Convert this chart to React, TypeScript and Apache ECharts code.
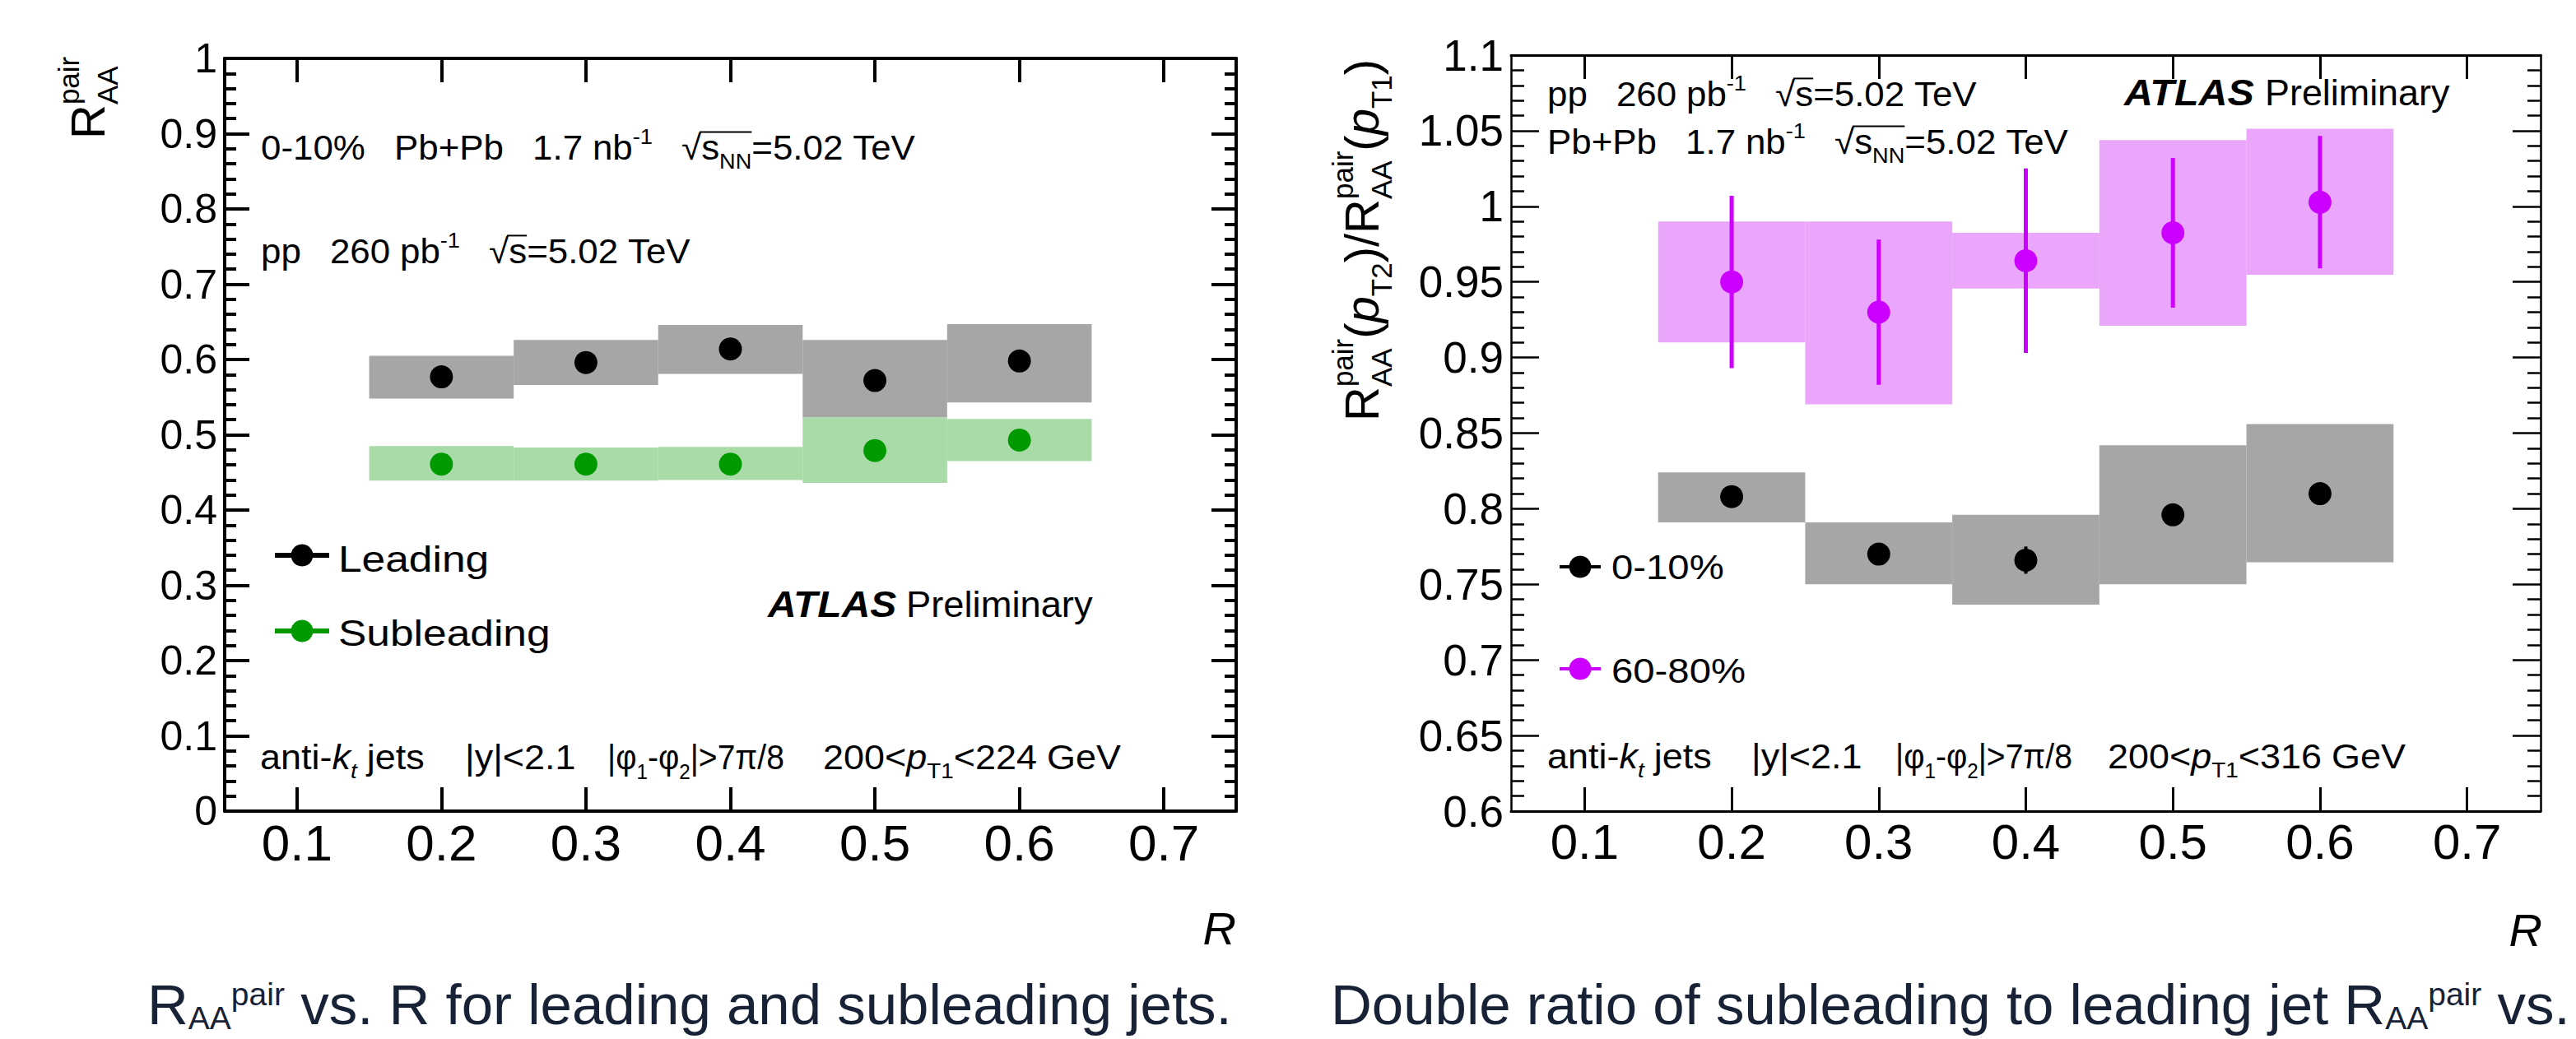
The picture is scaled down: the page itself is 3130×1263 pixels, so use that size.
import React, { useEffect, useRef } from 'react';
import * as echarts from 'echarts';

const W = 3130;
const H = 1263;
const FONT = '"Liberation Sans", Arial, Helvetica, sans-serif';

// ---------------- data ----------------
const R_BINS = [0.2, 0.3, 0.4, 0.5, 0.6];
const BIN_HALF = 0.05;
const X_TICKS = [0.1, 0.2, 0.3, 0.4, 0.5, 0.6, 0.7];

// left panel: R_AA^pair
const LEADING = [0.577, 0.596, 0.614, 0.572, 0.598];
const LEADING_SYS_LO = [0.548, 0.566, 0.581, 0.523, 0.543];
const LEADING_SYS_HI = [0.605, 0.626, 0.646, 0.626, 0.647];
const SUBLEADING = [0.461, 0.461, 0.461, 0.479, 0.493];
const SUBLEADING_SYS_LO = [0.439, 0.439, 0.440, 0.436, 0.465];
const SUBLEADING_SYS_HI = [0.485, 0.483, 0.484, 0.523, 0.521];

// right panel: double ratio
const C0_10 = [0.808, 0.770, 0.766, 0.796, 0.810];
const C0_10_ERR_LO = [0.805, 0.767, 0.757, 0.793, 0.807];
const C0_10_ERR_HI = [0.811, 0.773, 0.775, 0.799, 0.813];
const C0_10_SYS_LO = [0.791, 0.750, 0.7365, 0.750, 0.7646];
const C0_10_SYS_HI = [0.824, 0.791, 0.796, 0.842, 0.856];
const C60_80 = [0.950, 0.930, 0.964, 0.9825, 1.0027];
const C60_80_ERR_LO = [0.893, 0.882, 0.903, 0.933, 0.959];
const C60_80_ERR_HI = [1.007, 0.978, 1.025, 1.032, 1.0465];
const C60_80_SYS_LO = [0.910, 0.869, 0.9456, 0.921, 0.9548];
const C60_80_SYS_HI = [0.990, 0.990, 0.9825, 1.0438, 1.0513];

// ---------------- colours ----------------
const BLACK = '#000000';
const GREEN = '#009900';
const GREEN_BAND = '#a8dba8';
const GREY_BAND = '#a6a6a6';
const MAGENTA = '#cc00ff';
const MAGENTA_BAND = '#e9a6fa';
const CAPTION = '#172236';

// ---------------- text helper ----------------
type Seg = {
  t?: string;
  it?: boolean;
  b?: boolean;
  sup?: string;
  sub?: string;
  subIt?: boolean;
  gap?: number;
  over?: boolean;
};
interface TexOpts {
  x: number;
  y: number;
  fs: number;
  sfs?: number;
  supRaise?: number;
  subDrop?: number;
  align?: 'left' | 'right' | 'center';
  rotation?: number;
  scaleX?: number;
  fill?: string;
  family?: string;
  lineW?: number;
}
let measureCtx: CanvasRenderingContext2D | null = null;
function textWidth(t: string, size: number, it = false, b = false, family = FONT) {
  if (!measureCtx) measureCtx = document.createElement('canvas').getContext('2d');
  measureCtx!.font = `${it ? 'italic ' : ''}${b ? 'bold ' : ''}${size}px ${family}`;
  return measureCtx!.measureText(t).width;
}
const CENTRAL = 0.3465;

function tex(segs: Seg[], o: TexOpts) {
  const fs = o.fs;
  const sfs = o.sfs ?? Math.round(fs * 0.62);
  const supRaise = o.supRaise ?? fs * 0.45;
  const subDrop = o.subDrop ?? fs * 0.27;
  const fill = o.fill ?? BLACK;
  const family = o.family ?? FONT;
  const pieces: any[] = [];
  const overs: number[][] = [];
  let cx = 0;
  for (const s of segs) {
    if (s.gap) {
      cx += s.gap * fs;
      continue;
    }
    const start = cx;
    if (s.t) {
      pieces.push({ text: s.t, x: cx, base: 0, size: fs, it: !!s.it, b: !!s.b });
      cx += textWidth(s.t, fs, !!s.it, !!s.b, family);
    }
    let extra = 0;
    if (s.sup) {
      pieces.push({ text: s.sup, x: cx, base: -supRaise, size: sfs, it: false, b: false });
      extra = Math.max(extra, textWidth(s.sup, sfs, false, false, family));
    }
    if (s.sub) {
      pieces.push({ text: s.sub, x: cx, base: subDrop, size: sfs, it: !!s.subIt, b: false });
      extra = Math.max(extra, textWidth(s.sub, sfs, !!s.subIt, false, family));
    }
    cx += extra;
    if (s.over) overs.push([start, cx]);
  }
  const off = o.align === 'right' ? -cx : o.align === 'center' ? -cx / 2 : 0;
  const children: any[] = pieces.map((p) => ({
    type: 'text',
    x: p.x + off,
    y: p.base - CENTRAL * p.size,
    silent: true,
    style: {
      text: p.text,
      fontSize: p.size,
      fontFamily: family,
      fontStyle: p.it ? 'italic' : 'normal',
      fontWeight: p.b ? 'bold' : 'normal',
      fill,
      align: 'left',
      verticalAlign: 'middle',
      textAlign: 'left',
      textVerticalAlign: 'middle',
    },
  }));
  for (const [a, b] of overs) {
    children.push({
      type: 'line',
      silent: true,
      shape: { x1: a + off - 2, y1: -fs * 0.8, x2: b + off, y2: -fs * 0.8 },
      style: { stroke: fill, lineWidth: o.lineW ?? 2 },
    });
  }
  return {
    type: 'group',
    x: o.x,
    y: o.y,
    rotation: o.rotation ?? 0,
    scaleX: o.scaleX ?? 1,
    silent: true,
    children,
  };
}

function legendItem(
  x: number, y: number, half: number, lw: number, color: string,
  label: string, tx: number, base: number, fs: number, sx: number
) {
  return {
    type: 'group',
    silent: true,
    children: [
      { type: 'line', shape: { x1: x - half, y1: y, x2: x + half, y2: y }, style: { stroke: color, lineWidth: lw } },
      { type: 'circle', shape: { cx: x, cy: y, r: 13.5 }, style: { fill: color } },
      tex([{ t: label }], { x: tx, y: base, fs, scaleX: sx }),
    ],
  };
}

// ---------------- series helpers ----------------
function boxSeries(xi: number, yi: number, lo: number[], hi: number[], color: string) {
  return {
    type: 'custom',
    xAxisIndex: xi,
    yAxisIndex: yi,
    z: 1,
    silent: true,
    data: R_BINS.map((r, i) => [r, lo[i], hi[i]]),
    encode: { x: 0, y: [1, 2] },
    renderItem: (_p: any, api: any) => {
      const x = api.value(0);
      const p1 = api.coord([x - BIN_HALF, api.value(2)]);
      const p2 = api.coord([x + BIN_HALF, api.value(1)]);
      return {
        type: 'rect',
        shape: { x: p1[0], y: p1[1], width: p2[0] - p1[0], height: p2[1] - p1[1] },
        style: { fill: color },
      };
    },
  };
}
function errSeries(xi: number, yi: number, lo: number[], hi: number[], color: string, lw: number) {
  return {
    type: 'custom',
    xAxisIndex: xi,
    yAxisIndex: yi,
    z: 2,
    silent: true,
    data: R_BINS.map((r, i) => [r, lo[i], hi[i]]),
    encode: { x: 0, y: [1, 2] },
    renderItem: (_p: any, api: any) => {
      const x = api.value(0);
      const a = api.coord([x, api.value(1)]);
      const b = api.coord([x, api.value(2)]);
      return { type: 'line', shape: { x1: a[0], y1: a[1], x2: b[0], y2: b[1] }, style: { stroke: color, lineWidth: lw } };
    },
  };
}
function dotSeries(xi: number, yi: number, vals: number[], color: string) {
  return {
    type: 'scatter',
    xAxisIndex: xi,
    yAxisIndex: yi,
    z: 3,
    silent: true,
    symbol: 'circle',
    symbolSize: 28,
    itemStyle: { color, opacity: 1 },
    data: R_BINS.map((r, i) => [r, vals[i]]),
  };
}

// ---------------- axis helpers ----------------
function xAxes(gridIndex: number, lw: number, labelSize: number) {
  const tick = { show: true, inside: true, length: 29, customValues: X_TICKS, lineStyle: { color: BLACK, width: lw } };
  const base = {
    type: 'value',
    gridIndex,
    min: 0.05,
    max: 0.75,
    splitLine: { show: false },
    axisLine: { show: true, onZero: false, lineStyle: { color: BLACK, width: lw } },
    axisTick: tick,
  };
  return [
    {
      ...base,
      position: 'bottom',
      axisLabel: {
        show: true,
        customValues: X_TICKS,
        formatter: (v: number) => v.toFixed(1),
        fontSize: labelSize,
        fontFamily: FONT,
        color: BLACK,
        margin: 7,
      },
    },
    { ...base, position: 'top', axisLabel: { show: false } },
  ];
}
function yAxes(
  gridIndex: number, min: number, max: number, interval: number, lw: number,
  labelSize: number, majLen: number, minLen: number, digits: number
) {
  const base = {
    type: 'value',
    gridIndex,
    min,
    max,
    interval,
    splitLine: { show: false },
    axisLine: { show: true, onZero: false, lineStyle: { color: BLACK, width: lw } },
    axisTick: { show: true, inside: true, length: majLen, lineStyle: { color: BLACK, width: lw } },
    minorTick: { show: true, splitNumber: 5, length: minLen, lineStyle: { color: BLACK, width: lw } },
    minorSplitLine: { show: false },
  };
  const f = Math.pow(10, digits);
  return [
    {
      ...base,
      position: 'left',
      axisLabel: {
        show: true,
        formatter: (v: number) => String(Math.round(v * f) / f),
        fontSize: labelSize,
        fontFamily: FONT,
        color: BLACK,
        margin: 9,
        padding: [7, 0, 0, 0],
        showMinLabel: true,
        showMaxLabel: true,
      },
    },
    { ...base, position: 'right', axisLabel: { show: false } },
  ];
}

function buildOption() {
  const G1 = 0.27;
  const G2 = 0.8;
  const TS = 1.045; // horizontal stretch of the in-plot annotations
  const BS = 1.07; // stretch of the selection-cut line
  const PS = 0.93; // the phi-cut piece is narrower
  const graphic: any[] = [
    // ----- left panel texts -----
    tex(
      [
        { t: '0-10%' }, { gap: G2 }, { t: 'Pb+Pb' }, { gap: G2 }, { t: '1.7' }, { gap: G1 },
        { t: 'nb', sup: '-1' }, { gap: G2 }, { t: '√' }, { t: 's', sub: 'NN', over: true },
        { t: '=5.02' }, { gap: G1 }, { t: 'TeV' },
      ],
      { x: 317, y: 194, fs: 42, scaleX: TS }
    ),
    tex(
      [
        { t: 'pp' }, { gap: G2 }, { t: '260' }, { gap: G1 }, { t: 'pb', sup: '-1' }, { gap: G2 },
        { t: '√' }, { t: 's', over: true }, { t: '=5.02' }, { gap: G1 }, { t: 'TeV' },
      ],
      { x: 317, y: 320, fs: 42, scaleX: TS }
    ),
    tex([{ t: 'ATLAS', it: true, b: true }], { x: 933, y: 750, fs: 44, scaleX: 1.09 }),
    tex([{ t: 'Preliminary' }], { x: 1101, y: 750, fs: 44, scaleX: 1.03 }),
    legendItem(367, 675, 33, 6, BLACK, 'Leading', 411, 695, 44, 1.17),
    legendItem(367, 767, 33, 6, GREEN, 'Subleading', 411, 785, 44, 1.17),
    tex([{ t: 'anti-' }, { t: 'k', it: true, sub: 't', subIt: true }, { gap: G1 }, { t: 'jets' }], { x: 316, y: 935, fs: 42, scaleX: BS }),
    tex([{ t: '|y|<2.1' }], { x: 565, y: 935, fs: 42, scaleX: BS }),
    tex([{ t: '|φ', sub: '1' }, { t: '-φ', sub: '2' }, { t: '|>7π/8' }], { x: 738, y: 935, fs: 42, scaleX: PS }),
    tex([{ t: '200<' }, { t: 'p', it: true, sub: 'T1' }, { t: '<224' }, { gap: G1 }, { t: 'GeV' }], { x: 1000, y: 935, fs: 42, scaleX: BS }),
    tex([{ t: 'R', sup: 'pair', sub: 'AA' }], { x: 127, y: 169, fs: 58, sfs: 35, supRaise: 31, subDrop: 16, rotation: Math.PI / 2 }),
    tex([{ t: 'R', it: true }], { x: 1502, y: 1148, fs: 56, align: 'right' }),

    // ----- right panel texts -----
    tex(
      [
        { t: 'pp' }, { gap: G2 }, { t: '260' }, { gap: G1 }, { t: 'pb', sup: '-1' }, { gap: G2 },
        { t: '√' }, { t: 's', over: true }, { t: '=5.02' }, { gap: G1 }, { t: 'TeV' },
      ],
      { x: 1880, y: 129, fs: 42, scaleX: TS }
    ),
    tex(
      [
        { t: 'Pb+Pb' }, { gap: G2 }, { t: '1.7' }, { gap: G1 }, { t: 'nb', sup: '-1' }, { gap: G2 },
        { t: '√' }, { t: 's', sub: 'NN', over: true }, { t: '=5.02' }, { gap: G1 }, { t: 'TeV' },
      ],
      { x: 1880, y: 187, fs: 42, scaleX: TS }
    ),
    tex([{ t: 'ATLAS', it: true, b: true }], { x: 2581, y: 128, fs: 44, scaleX: 1.1 }),
    tex([{ t: 'Preliminary' }], { x: 2752, y: 128, fs: 44, scaleX: 1.02 }),
    legendItem(1920, 689, 25, 4, BLACK, '0-10%', 1958, 704, 43, 1.1),
    legendItem(1920, 813, 25, 4, MAGENTA, '60-80%', 1958, 830, 43, 1.1),
    tex([{ t: 'anti-' }, { t: 'k', it: true, sub: 't', subIt: true }, { gap: G1 }, { t: 'jets' }], { x: 1880, y: 934, fs: 42, scaleX: BS }),
    tex([{ t: '|y|<2.1' }], { x: 2128, y: 934, fs: 42, scaleX: BS }),
    tex([{ t: '|φ', sub: '1' }, { t: '-φ', sub: '2' }, { t: '|>7π/8' }], { x: 2303, y: 934, fs: 42, scaleX: PS }),
    tex([{ t: '200<' }, { t: 'p', it: true, sub: 'T1' }, { t: '<316' }, { gap: G1 }, { t: 'GeV' }], { x: 2561, y: 934, fs: 42, scaleX: BS }),
    tex(
      [
        { t: 'R', sup: 'pair', sub: 'AA' }, { t: '(' }, { t: 'p', it: true, sub: 'T2' }, { t: ')/' },
        { t: 'R', sup: 'pair', sub: 'AA' }, { t: '(' }, { t: 'p', it: true, sub: 'T1' }, { t: ')' },
      ],
      { x: 1675, y: 512, fs: 58, sfs: 35, supRaise: 31, subDrop: 16, rotation: Math.PI / 2 }
    ),
    tex([{ t: 'R', it: true }], { x: 3089, y: 1150, fs: 56, align: 'right' }),

    // ----- captions -----
    tex(
      [{ t: 'R' }, { sub: 'AA' }, { sup: 'pair' }, { gap: 0.28 }, { t: 'vs. R for leading and subleading jets.' }],
      { x: 179, y: 1245, fs: 69, sfs: 39, supRaise: 23, subDrop: 6, fill: CAPTION }
    ),
    tex(
      [{ t: 'Double ratio of subleading to leading jet R' }, { sub: 'AA' }, { sup: 'pair' }, { gap: 0.28 }, { t: 'vs.' }],
      { x: 1617, y: 1245, fs: 69, sfs: 39, supRaise: 23, subDrop: 6, fill: CAPTION }
    ),
  ];

  return {
    animation: false,
    backgroundColor: '#ffffff',
    grid: [
      { left: 273, top: 71, width: 1229, height: 915 },
      { left: 1836, top: 67, width: 1251, height: 919 },
    ],
    xAxis: [...xAxes(0, 4, 62), ...xAxes(1, 3, 60)],
    yAxis: [...yAxes(0, 0, 1, 0.1, 4, 50, 30, 14, 1), ...yAxes(1, 0.6, 1.1, 0.05, 2.5, 53, 34, 16, 2)],
    series: [
      boxSeries(0, 0, LEADING_SYS_LO, LEADING_SYS_HI, GREY_BAND),
      boxSeries(0, 0, SUBLEADING_SYS_LO, SUBLEADING_SYS_HI, GREEN_BAND),
      dotSeries(0, 0, LEADING, BLACK),
      dotSeries(0, 0, SUBLEADING, GREEN),
      boxSeries(2, 2, C0_10_SYS_LO, C0_10_SYS_HI, GREY_BAND),
      boxSeries(2, 2, C60_80_SYS_LO, C60_80_SYS_HI, MAGENTA_BAND),
      errSeries(2, 2, C0_10_ERR_LO, C0_10_ERR_HI, BLACK, 4),
      errSeries(2, 2, C60_80_ERR_LO, C60_80_ERR_HI, MAGENTA, 5),
      dotSeries(2, 2, C0_10, BLACK),
      dotSeries(2, 2, C60_80, MAGENTA),
    ],
    graphic,
  };
}

export default function App() {
  const ref = useRef<HTMLDivElement>(null);
  useEffect(() => {
    const el = ref.current;
    if (!el) return;
    const chart = echarts.init(el, null, { renderer: 'svg', width: W, height: H });
    chart.setOption(buildOption() as any);
    return () => {
      chart.dispose();
    };
  }, []);
  return (
    <div
      ref={ref}
      style={{ position: 'fixed', left: 0, top: 0, width: W, height: H, background: '#ffffff', overflow: 'hidden' }}
    />
  );
}
